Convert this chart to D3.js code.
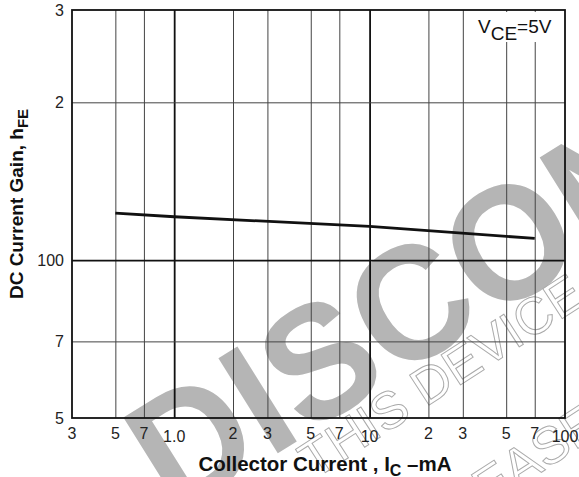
<!DOCTYPE html>
<html>
<head>
<meta charset="utf-8">
<script src="https://cdn.jsdelivr.net/npm/d3@7"></script>
<style>
  body { margin: 0; background: #fff; }
  svg { display: block; font-family: "Liberation Sans", Arial, sans-serif; }
</style>
</head>
<body>
<div id="chart"></div>
<script>
// collector current (mA) and DC current gain hFE
const current = [0.5, 1, 10, 70];
const gain = [123, 121, 116, 110];

const xTicks = [0.3, 0.5, 0.7, 1, 2, 3, 5, 7, 10, 20, 30, 50, 70, 100];
const xTickLabels = ["3", "5", "7", "1.0", "2", "3", "5", "7", "10", "2", "3", "5", "7", "100"];
const yTicks = [50, 70, 100, 200, 300];
const yTickLabels = ["5", "7", "100", "2", "3"];

const width = 579;
const height = 477;
const margin = { top: 10, right: 14, bottom: 59, left: 72 };

const svg = d3
  .select("#chart")
  .append("svg")
  .attr("width", width)
  .attr("height", height);

const x = d3
  .scaleLog()
  .domain([0.3, 100])
  .range([margin.left, width - margin.right]);
const y = d3
  .scaleLog()
  .domain([50, 300])
  .range([height - margin.bottom, margin.top]);

// watermark
const wm = svg.append("g");
wm.append("text")
  .attr("transform", "translate(174,518) rotate(-32) scale(1,1.05)")
  .attr("font-size", 155)
  .attr("font-weight", "bold")
  .attr("fill", "#b5b5b5")
  .text("DISCONTINUED");
wm.append("text")
  .attr("transform", "translate(314,480) rotate(-33)")
  .attr("font-size", 52)
  .attr("fill", "none")
  .attr("stroke", "#aaa")
  .attr("stroke-width", 1)
  .text("THIS DEVICE IS");
wm.append("text")
  .attr("transform", "translate(434,542) rotate(-33)")
  .attr("font-size", 52)
  .attr("fill", "none")
  .attr("stroke", "#aaa")
  .attr("stroke-width", 1)
  .text("PLEASE CONTACT");

// grid
const isDecade = (v) => Math.abs(Math.log10(v) - Math.round(Math.log10(v))) < 1e-9;

svg
  .append("g")
  .attr("transform", `translate(0,${height - margin.bottom})`)
  .call(
    d3
      .axisBottom(x)
      .tickValues(xTicks.slice(1, -1))
      .tickSize(-(height - margin.top - margin.bottom))
      .tickFormat("")
  )
  .call((g) => g.select(".domain").remove())
  .call((g) =>
    g
      .selectAll("line")
      .attr("stroke", (d) => (isDecade(d) ? "#111" : "#444"))
      .attr("stroke-width", (d) => (isDecade(d) ? 1.8 : 1))
  );

svg
  .append("g")
  .attr("transform", `translate(${margin.left},0)`)
  .call(
    d3
      .axisLeft(y)
      .tickValues(yTicks.slice(1, -1))
      .tickSize(-(width - margin.left - margin.right))
      .tickFormat("")
  )
  .call((g) => g.select(".domain").remove())
  .call((g) =>
    g
      .selectAll("line")
      .attr("stroke", (d) => (isDecade(d) ? "#111" : "#444"))
      .attr("stroke-width", (d) => (isDecade(d) ? 1.6 : 1))
  );

// frame
svg
  .append("rect")
  .attr("x", margin.left)
  .attr("y", margin.top)
  .attr("width", width - margin.left - margin.right)
  .attr("height", height - margin.top - margin.bottom)
  .attr("fill", "none")
  .attr("stroke", "#111")
  .attr("stroke-width", 1.8);

// tick labels
svg
  .append("g")
  .selectAll("text")
  .data(xTicks)
  .join("text")
  .attr("x", (d) => x(d))
  .attr("y", (d, i) => (isDecade(d) ? 442 : 439))
  .attr("text-anchor", "middle")
  .attr("font-size", 16)
  .attr("fill", "#222")
  .text((d, i) => xTickLabels[i]);

svg
  .append("g")
  .selectAll("text")
  .data(yTicks)
  .join("text")
  .attr("x", margin.left - 8)
  .attr("y", (d) => y(d))
  .attr("dy", "0.38em")
  .attr("text-anchor", "end")
  .attr("font-size", 16)
  .attr("fill", "#222")
  .text((d, i) => yTickLabels[i]);

// data line
svg
  .append("path")
  .datum(current.map((c, i) => [c, gain[i]]))
  .attr("fill", "none")
  .attr("stroke", "#111")
  .attr("stroke-width", 2.8)
  .attr("d", d3.line().x((d) => x(d[0])).y((d) => y(d[1])));

// condition label
svg
  .append("rect")
  .attr("x", 476)
  .attr("y", 12)
  .attr("width", 87)
  .attr("height", 30)
  .attr("fill", "#fff");
const cond = svg
  .append("text")
  .attr("x", 478)
  .attr("y", 33)
  .attr("font-size", 19)
  .attr("fill", "#111");
cond.append("tspan").text("V");
cond.append("tspan").attr("dy", 7).text("CE");
cond.append("tspan").attr("dy", -7).text("=5V");

// axis titles
const xt = svg
  .append("text")
  .attr("x", 325)
  .attr("y", 471)
  .attr("text-anchor", "middle")
  .attr("font-size", 20.5)
  .attr("font-weight", "bold")
  .attr("fill", "#111");
xt.append("tspan").text("Collector Current , I");
xt.append("tspan").attr("dy", 5).attr("font-size", 16).text("C");
xt.append("tspan").attr("dy", -5).text(" \u2013mA");

const yt = svg
  .append("text")
  .attr("transform", "translate(23,204) rotate(-90)")
  .attr("text-anchor", "middle")
  .attr("font-size", 19)
  .attr("font-weight", "bold")
  .attr("fill", "#111");
yt.append("tspan").text("DC Current Gain, h");
yt.append("tspan").attr("dy", 5).attr("font-size", 15).text("FE");
</script>
</body>
</html>
